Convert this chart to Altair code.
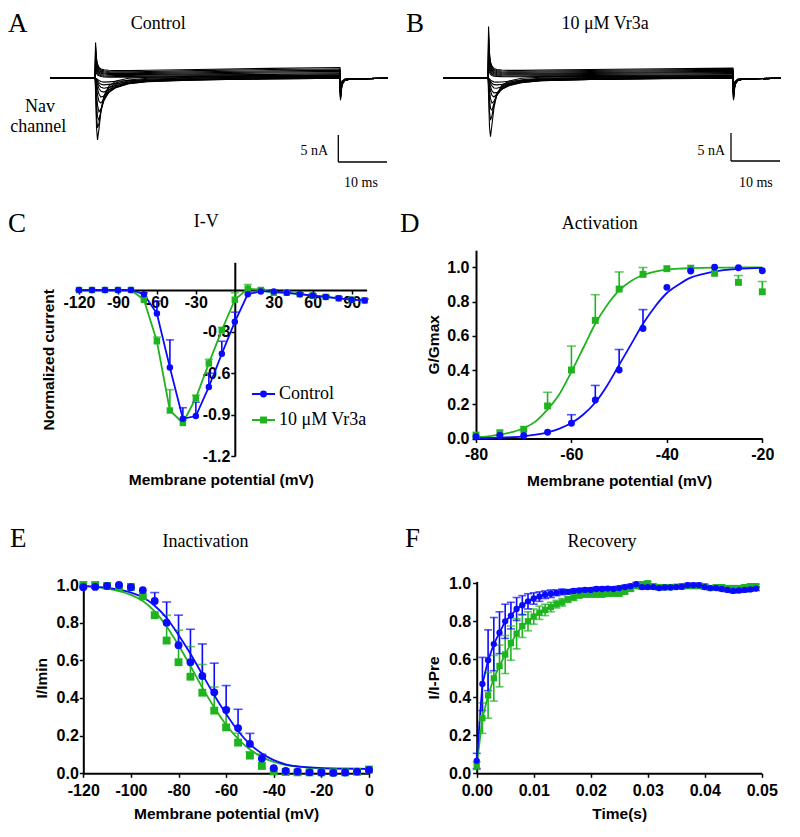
import altair as alt
import pandas as pd

SERIF = "Liberation Serif"
SANS = "Liberation Sans"
SERIES = ["Control", "10 μM Vr3a"]
COLORS = ["#0a0aff", "#1fb41f"]
SHAPES = ["circle", "square"]

# ---------------- A / B : current traces (time in ms, current in nA) ----------------
trace_t = [0, 9.2, 9.3, 9.5, 9.7, 10.0, 10.4, 11.0, 12.0, 13.5, 16.0, 20.0, 30.0, 45.0,
           59.2, 59.3, 59.6, 60.2, 61.5, 69.0]

control_traces = [
    [0, 0, 6.5, 3.6, 2.6, 2.0, 1.7, 1.55, 1.45, 1.4, 1.4, 1.45, 1.6, 1.8, 1.95, -4.0, -1.2, -0.4, -0.1, 0],
    [0, 0, 5.8, 3.2, 2.3, 1.8, 1.5, 1.35, 1.25, 1.2, 1.2, 1.25, 1.4, 1.6, 1.7, -3.8, -1.1, -0.4, -0.1, 0],
    [0, 0, 5.1, 2.9, 2.0, 1.6, 1.3, 1.15, 1.05, 1.0, 1.0, 1.05, 1.2, 1.35, 1.45, -3.6, -1.0, -0.3, -0.1, 0],
    [0, 0, 4.4, 2.5, 1.8, 1.4, 1.1, 0.95, 0.9, 0.85, 0.85, 0.9, 1.0, 1.15, 1.25, -3.4, -1.0, -0.3, -0.1, 0],
    [0, 0, 3.7, 2.1, 1.5, 1.15, 0.9, 0.8, 0.72, 0.7, 0.7, 0.72, 0.8, 0.95, 1.0, -3.2, -0.9, -0.3, -0.1, 0],
    [0, 0, 3.0, 1.7, 1.2, 0.9, 0.7, 0.6, 0.55, 0.52, 0.52, 0.55, 0.62, 0.72, 0.8, -3.0, -0.9, -0.3, -0.1, 0],
    [0, 0, 2.3, 1.3, 0.9, 0.65, 0.5, 0.42, 0.38, 0.35, 0.35, 0.38, 0.45, 0.52, 0.58, -2.8, -0.8, -0.3, -0.1, 0],
    [0, 0, 1.6, 0.9, 0.6, 0.45, 0.32, 0.26, 0.22, 0.2, 0.2, 0.22, 0.28, 0.33, 0.38, -2.6, -0.8, -0.3, -0.1, 0],
    [0, 0, -2.5, -9.0, -11.2, -9.2, -6.0, -3.2, -1.4, -0.5, 0.0, 0.2, 0.35, 0.45, 0.55, -3.5, -1.0, -0.3, -0.1, 0],
    [0, 0, -1.2, -6.8, -9.0, -8.2, -5.8, -3.5, -1.8, -0.8, -0.3, 0.0, 0.2, 0.3, 0.4, -3.3, -0.9, -0.3, -0.1, 0],
    [0, 0, -0.6, -4.5, -7.0, -7.6, -6.0, -3.9, -2.2, -1.1, -0.5, -0.15, 0.1, 0.2, 0.3, -3.1, -0.9, -0.3, -0.1, 0],
    [0, 0, -0.3, -2.7, -4.9, -6.1, -5.6, -4.1, -2.5, -1.4, -0.7, -0.3, 0.0, 0.12, 0.2, -2.9, -0.8, -0.3, -0.1, 0],
    [0, 0, -0.15, -1.5, -3.0, -4.2, -4.5, -3.8, -2.6, -1.6, -0.9, -0.45, -0.15, 0.05, 0.12, -2.7, -0.8, -0.3, -0.1, 0],
    [0, 0, -0.1, -0.8, -1.9, -2.9, -3.4, -3.2, -2.5, -1.7, -1.0, -0.55, -0.25, 0.0, 0.08, -2.5, -0.7, -0.2, -0.1, 0],
    [0, 0, 0, -0.45, -1.1, -1.9, -2.35, -2.5, -2.1, -1.6, -1.0, -0.6, -0.3, -0.05, 0.04, -2.3, -0.7, -0.2, -0.1, 0],
    [0, 0, 0, -0.3, -0.7, -1.25, -1.65, -1.8, -1.65, -1.3, -0.9, -0.55, -0.3, -0.1, 0.0, -2.1, -0.6, -0.2, -0.1, 0],
    [0, 0, 0, -0.2, -0.4, -0.8, -1.1, -1.2, -1.1, -0.95, -0.7, -0.45, -0.25, -0.1, 0.0, -1.9, -0.6, -0.2, -0.1, 0],
    [0, 0, 0, -0.1, -0.2, -0.4, -0.6, -0.7, -0.65, -0.55, -0.4, -0.3, -0.15, -0.05, 0.0, -1.7, -0.5, -0.2, -0.1, 0],
]

vr3a_traces = [
    [0, 0, 9.4, 4.5, 3.0, 2.2, 1.8, 1.6, 1.5, 1.45, 1.45, 1.5, 1.6, 1.75, 1.85, -4.0, -1.2, -0.4, -0.1, 0],
    [0, 0, 8.3, 4.0, 2.7, 2.0, 1.6, 1.42, 1.33, 1.28, 1.28, 1.32, 1.42, 1.55, 1.65, -3.8, -1.1, -0.4, -0.1, 0],
    [0, 0, 7.2, 3.5, 2.4, 1.75, 1.4, 1.24, 1.15, 1.1, 1.1, 1.14, 1.24, 1.36, 1.45, -3.6, -1.0, -0.3, -0.1, 0],
    [0, 0, 6.1, 3.0, 2.1, 1.5, 1.2, 1.06, 0.98, 0.94, 0.94, 0.97, 1.06, 1.17, 1.25, -3.4, -1.0, -0.3, -0.1, 0],
    [0, 0, 5.0, 2.5, 1.75, 1.25, 1.0, 0.88, 0.8, 0.76, 0.76, 0.8, 0.88, 0.98, 1.05, -3.2, -0.9, -0.3, -0.1, 0],
    [0, 0, 3.9, 2.0, 1.4, 1.0, 0.8, 0.7, 0.63, 0.6, 0.6, 0.63, 0.7, 0.78, 0.85, -3.0, -0.9, -0.3, -0.1, 0],
    [0, 0, 2.8, 1.5, 1.05, 0.75, 0.6, 0.52, 0.46, 0.43, 0.43, 0.46, 0.52, 0.58, 0.64, -2.8, -0.8, -0.3, -0.1, 0],
    [0, 0, 1.8, 1.0, 0.7, 0.5, 0.4, 0.34, 0.3, 0.28, 0.28, 0.3, 0.35, 0.4, 0.44, -2.6, -0.8, -0.3, -0.1, 0],
    [0, 0, -3.0, -9.0, -10.6, -8.4, -5.4, -2.9, -1.3, -0.5, 0.0, 0.2, 0.3, 0.4, 0.5, -3.5, -1.0, -0.3, -0.1, 0],
    [0, 0, -1.4, -6.2, -7.6, -6.8, -4.8, -2.9, -1.5, -0.7, -0.25, 0.0, 0.15, 0.25, 0.35, -3.3, -0.9, -0.3, -0.1, 0],
    [0, 0, -0.6, -3.8, -5.5, -5.8, -4.6, -3.0, -1.7, -0.9, -0.4, -0.1, 0.05, 0.15, 0.25, -3.1, -0.9, -0.3, -0.1, 0],
    [0, 0, -0.3, -2.2, -3.7, -4.5, -4.2, -3.1, -1.9, -1.05, -0.5, -0.2, 0.0, 0.1, 0.18, -2.9, -0.8, -0.3, -0.1, 0],
    [0, 0, -0.15, -1.2, -2.3, -3.1, -3.4, -2.9, -2.0, -1.2, -0.65, -0.3, -0.1, 0.05, 0.12, -2.7, -0.8, -0.3, -0.1, 0],
    [0, 0, -0.1, -0.7, -1.5, -2.3, -2.65, -2.6, -2.0, -1.35, -0.8, -0.45, -0.2, 0.0, 0.08, -2.5, -0.7, -0.2, -0.1, 0],
    [0, 0, 0, -0.4, -0.9, -1.4, -1.75, -1.8, -1.55, -1.15, -0.75, -0.45, -0.22, -0.05, 0.04, -2.3, -0.7, -0.2, -0.1, 0],
    [0, 0, 0, -0.25, -0.55, -0.9, -1.15, -1.2, -1.1, -0.9, -0.62, -0.4, -0.2, -0.08, 0.0, -2.1, -0.6, -0.2, -0.1, 0],
    [0, 0, 0, -0.12, -0.28, -0.5, -0.65, -0.7, -0.66, -0.55, -0.4, -0.28, -0.15, -0.05, 0.0, -1.9, -0.6, -0.2, -0.1, 0],
]

# ---------------- C : I-V ----------------
iv_v = [-120, -110, -100, -90, -80, -70, -60, -50, -40, -30, -20, -10, 0, 10, 20, 30, 40, 50, 60, 70, 80, 90, 100]
iv_control = [0, 0, 0, 0, 0, -0.03, -0.17, -0.56, -0.93, -0.91, -0.70, -0.46, -0.23, -0.03, -0.01, -0.01,
              -0.02, -0.03, -0.04, -0.05, -0.06, -0.07, -0.075]
iv_control_err = [0, 0, 0, 0, 0, 0.01, 0.09, 0.20, 0.08, 0.10, 0.10, 0.09, 0.07, 0.02, 0.01, 0.01,
                  0.01, 0.01, 0.01, 0.01, 0.01, 0.01, 0.01]
iv_vr3a = [0, 0, 0, 0, 0, -0.07, -0.37, -0.87, -0.96, -0.78, -0.53, -0.29, -0.07, 0.01, 0.0, -0.02,
           -0.02, -0.03, -0.04, -0.05, -0.06, -0.07, -0.075]
iv_vr3a_err = [0, 0, 0, 0, 0, 0.02, 0.03, 0.15, 0.02, 0.02, 0.03, 0.02, 0.05, 0.03, 0.01, 0.01,
               0.01, 0.01, 0.01, 0.01, 0.01, 0.01, 0.01]

# ---------------- D : Activation ----------------
act_v = [-80, -75, -70, -65, -60, -55, -50, -45, -40, -35, -30, -25, -20]
act_control = [0.01, 0.017, 0.017, 0.036, 0.089, 0.225, 0.40, 0.643, 0.883, 0.978, 1.0, 0.998, 0.98]
act_control_err = [0, 0, 0, 0, 0.05, 0.085, 0.12, 0.11, 0, 0, 0, 0, 0]
act_vr3a = [0.02, 0.034, 0.054, 0.19, 0.40, 0.69, 0.873, 0.959, 0.992, 0.995, 0.965, 0.912, 0.857]
act_vr3a_err = [0, 0, 0, 0.08, 0.14, 0.15, 0.10, 0.04, 0, 0, 0, 0.04, 0.06]
act_fit_v = [-80, -77.5, -75, -72.5, -70, -67.5, -65, -62.5, -60, -57.5, -55, -52.5, -50, -47.5, -45,
             -42.5, -40, -37.5, -35, -32.5, -30, -25, -20]
act_fit_control = [0.002, 0.003, 0.005, 0.008, 0.013, 0.022, 0.036, 0.058, 0.09, 0.14, 0.21, 0.31, 0.43,
                   0.55, 0.67, 0.77, 0.85, 0.90, 0.94, 0.96, 0.976, 0.991, 0.997]
act_fit_vr3a = [0.008, 0.013, 0.022, 0.037, 0.06, 0.10, 0.17, 0.26, 0.39, 0.53, 0.67, 0.78, 0.865,
                0.92, 0.955, 0.975, 0.986, 0.992, 0.995, 0.997, 0.998, 0.999, 1.0]

# ---------------- E : Inactivation ----------------
inact_v = [-120, -115, -110, -105, -100, -95, -90, -85, -80, -75, -70, -65, -60, -55, -50, -45, -40,
           -35, -30, -25, -20, -15, -10, -5, 0]
inact_control = [0.988, 0.99, 0.995, 1.0, 0.988, 0.973, 0.915, 0.80, 0.68, 0.59, 0.517, 0.43, 0.336,
                 0.24, 0.156, 0.078, 0.027, 0.012, 0.009, 0.005, 0.004, 0.002, 0.004, 0.009, 0.018]
inact_control_err = [0, 0, 0, 0, 0, 0, 0.045, 0.11, 0.16, 0.175, 0.17, 0.155, 0.13, 0.10, 0.056, 0.023,
                     0, 0, 0, 0, 0, 0, 0, 0, 0]
inact_vr3a = [1.0, 1.0, 0.995, 0.988, 0.99, 0.94, 0.84, 0.705, 0.59, 0.513, 0.428, 0.333, 0.244, 0.163,
              0.094, 0.039, 0.01, 0.007, 0.005, 0.005, 0.005, 0.005, 0.005, 0.008, 0.02]
inact_vr3a_err = [0, 0, 0, 0, 0, 0, 0, 0.135, 0.17, 0.16, 0.15, 0.125, 0.10, 0.05, 0.02, 0, 0, 0, 0,
                  0, 0, 0, 0, 0, 0]
inact_fit_v = [-120, -115, -110, -105, -100, -95, -90, -85, -80, -75, -70, -65, -60, -55, -50, -45,
               -40, -35, -30, -25, -20, -10, 0]
inact_fit_control = [0.995, 0.99, 0.985, 0.975, 0.96, 0.935, 0.89, 0.825, 0.735, 0.635, 0.525, 0.415,
                     0.315, 0.225, 0.155, 0.105, 0.07, 0.048, 0.037, 0.031, 0.028, 0.025, 0.024]
inact_fit_vr3a = [0.995, 0.99, 0.98, 0.968, 0.948, 0.915, 0.86, 0.78, 0.68, 0.57, 0.455, 0.35, 0.258,
                  0.183, 0.126, 0.087, 0.06, 0.044, 0.035, 0.03, 0.027, 0.025, 0.024]

# ---------------- F : Recovery ----------------
rec_t = [0.000, 0.001, 0.002, 0.003, 0.004, 0.005, 0.006, 0.007, 0.008, 0.009,
         0.010, 0.011, 0.012, 0.013, 0.014, 0.015, 0.016, 0.017, 0.018, 0.019,
         0.020, 0.021, 0.022, 0.023, 0.024, 0.025, 0.026, 0.027, 0.028, 0.029,
         0.030, 0.031, 0.032, 0.033, 0.034, 0.035, 0.036, 0.037, 0.038, 0.039,
         0.040, 0.041, 0.042, 0.043, 0.044, 0.045, 0.046, 0.047, 0.048, 0.049]
rec_control = [0.065, 0.47, 0.595, 0.68, 0.74, 0.80, 0.83, 0.865, 0.885, 0.905,
               0.92, 0.93, 0.94, 0.945, 0.95, 0.955, 0.955, 0.96, 0.962, 0.965,
               0.965, 0.97, 0.97, 0.972, 0.97, 0.975, 0.98, 0.985, 0.995, 0.98,
               0.98, 0.98, 0.975, 0.978, 0.978, 0.98, 0.982, 0.99, 0.99, 0.99,
               0.98, 0.975, 0.975, 0.97, 0.965, 0.96, 0.962, 0.965, 0.968, 0.972]
rec_control_err = [0.04, 0.14, 0.16, 0.14, 0.11, 0.09, 0.07, 0.06, 0.05, 0.04,
                   0.03, 0.025, 0.02, 0.02, 0.015, 0.015, 0.01, 0.01, 0.01, 0.01,
                   0.01, 0.01, 0.01, 0.01, 0.01, 0.01, 0.01, 0.01, 0.01, 0.01,
                   0.01, 0.01, 0.01, 0.01, 0.01, 0.01, 0.01, 0.01, 0.01, 0.01,
                   0.01, 0.01, 0.01, 0.01, 0.01, 0.01, 0.01, 0.01, 0.01, 0.01]
rec_vr3a = [0.04, 0.29, 0.41, 0.50, 0.565, 0.625, 0.685, 0.735, 0.775, 0.80,
            0.825, 0.845, 0.86, 0.875, 0.89, 0.90, 0.915, 0.925, 0.935, 0.94,
            0.94, 0.94, 0.94, 0.945, 0.945, 0.945, 0.955, 0.97, 0.985, 0.995,
            1.0, 0.985, 0.98, 0.98, 0.98, 0.982, 0.985, 0.985, 0.985, 0.985,
            0.985, 0.975, 0.98, 0.98, 0.975, 0.975, 0.975, 0.98, 0.985, 0.985]
rec_vr3a_err = [0.02, 0.08, 0.12, 0.12, 0.11, 0.10, 0.09, 0.08, 0.06, 0.05,
                0.04, 0.035, 0.03, 0.025, 0.02, 0.02, 0.015, 0.015, 0.01, 0.01,
                0.01, 0.01, 0.01, 0.01, 0.01, 0.01, 0.01, 0.01, 0.01, 0.01,
                0.01, 0.01, 0.01, 0.01, 0.01, 0.01, 0.01, 0.01, 0.01, 0.01,
                0.01, 0.01, 0.01, 0.01, 0.01, 0.01, 0.01, 0.01, 0.01, 0.01]

# ---------------- helpers ----------------
W, H = 784, 821


def px(v):
    return v - 8


color_enc = alt.Color("series:N", scale=alt.Scale(domain=SERIES, range=COLORS), legend=None)
shape_enc = alt.Shape("series:N", scale=alt.Scale(domain=SERIES, range=SHAPES), legend=None)
MINUS_FIX = "replace(datum.label, '\u2212', '-')"


def lin(domain, rng):
    return alt.Scale(domain=domain, range=rng, nice=False, zero=False)


def long_df(xs, ctrl, ctrl_err, vr, vr_err):
    rows = []
    for s, vals, errs in ((SERIES[1], vr, vr_err), (SERIES[0], ctrl, ctrl_err)):
        for x, v, e in zip(xs, vals, errs):
            rows.append({"x": x, "y": v, "hi": v + e, "lo": v - e, "err": e, "series": s})
    return pd.DataFrame(rows)


def fit_df(xs, ctrl, vr):
    rows = []
    for s, vals in ((SERIES[1], vr), (SERIES[0], ctrl)):
        for x, v in zip(xs, vals):
            rows.append({"x": x, "y": v, "series": s})
    return pd.DataFrame(rows)


def data_panel(df, xs, ys, xaxis, yaxis, size, cap, connect=False, fits=None, sym=False):
    # every sub-layer carries the identical axis spec so the shared axis survives merging
    X = lambda f: alt.X(f, scale=xs, axis=xaxis)
    Y = lambda f: alt.Y(f, scale=ys, axis=yaxis)
    base = alt.Chart(df)
    err = base.transform_filter("datum.err > 0")
    layers = [
        err.mark_rule(strokeWidth=1.6).encode(
            x=X("x:Q"), y=Y("lo:Q" if sym else "y:Q"), y2="hi:Q", color=color_enc),
        err.mark_tick(orient="horizontal", size=cap, thickness=1.6).encode(
            x=X("x:Q"), y=Y("hi:Q"), color=color_enc),
    ]
    if sym:
        layers.append(err.mark_tick(orient="horizontal", size=cap, thickness=1.6).encode(
            x=X("x:Q"), y=Y("lo:Q"), color=color_enc))
    if fits is not None:
        layers.append(alt.Chart(fits).mark_line(strokeWidth=1.8, interpolate="monotone").encode(
            x=X("x:Q"), y=Y("y:Q"), color=color_enc, detail="series:N"))
    if connect:
        layers.append(base.mark_line(strokeWidth=1.8).encode(
            x=X("x:Q"), y=Y("y:Q"), color=color_enc, detail="series:N"))
    layers.append(base.mark_point(filled=True, opacity=1, size=size).encode(
        x=X("x:Q"), y=Y("y:Q"), color=color_enc, shape=shape_enc))
    return alt.layer(*layers)


def trace_panel(traces, x0, x1):
    rows = []
    for k, tr in enumerate(traces):
        for t, v in zip(trace_t, tr):
            rows.append({"trace": k, "t": t, "i": v})
    return alt.Chart(pd.DataFrame(rows)).mark_line(color="black", strokeWidth=1.1).encode(
        x=alt.X("t:Q", scale=lin([0, 69], [px(x0), px(x1)]), axis=None),
        y=alt.Y("i:Q", scale=lin([-12, 10], [px(144.3), px(23.3)]), axis=None),
        detail="trace:N")


def text_layer(s, x, y, size, align="center", font=SERIF, weight="normal"):
    return alt.Chart(pd.DataFrame({"t": [s]})).mark_text(
        font=font, fontSize=size, fontWeight=weight, align=align, baseline="alphabetic", color="black"
    ).encode(text="t:N", x=alt.value(px(x)), y=alt.value(px(y)))


def rule_layer(x1, y1, x2, y2):
    return alt.Chart(pd.DataFrame({"a": [0]})).mark_rule(color="black", strokeWidth=1.3).encode(
        x=alt.value(px(x1)), y=alt.value(px(y1)), x2=alt.value(px(x2)), y2=alt.value(px(y2)))


# ---------------- panels ----------------
panel_a = trace_panel(control_traces, 50, 388)
panel_b = trace_panel(vr3a_traces, 443, 781)

# C
xs_c = lin([-123, 101.5], [px(75.1), px(366.6)])
ys_c = lin([-1.2, 0.2], [px(456.2), px(262.3)])
xa_c = alt.Axis(orient="bottom", offset=px(290) - H, values=[-120, -90, -60, -30, 30, 60, 90],
                title="Membrane potential (mV)", titleY=479 - 290, titleBaseline="middle",
                labelExpr=MINUS_FIX, labelPadding=0)
ya_c = alt.Axis(orient="left", offset=-px(234.8), values=[-1.2, -0.9, -0.6, -0.3], format=".1f",
                title="Normalized current", titleX=48.3 - 234.8, titleBaseline="middle",
                labelExpr=MINUS_FIX, labelPadding=1)
panel_c = data_panel(long_df(iv_v, iv_control, iv_control_err, iv_vr3a, iv_vr3a_err),
                     xs_c, ys_c, xa_c, ya_c, size=42, cap=8, connect=True)

leg_df = pd.DataFrame({"series": SERIES})
leg_y = alt.Y("series:N", scale=alt.Scale(type="point", domain=SERIES, range=[px(394), px(420)], padding=0),
              axis=None)
legend_c = alt.layer(
    alt.Chart(leg_df).mark_rule(strokeWidth=2).encode(
        x=alt.value(px(252)), x2=alt.value(px(275)), y=leg_y, color=color_enc),
    alt.Chart(leg_df).mark_point(filled=True, opacity=1, size=48).encode(
        x=alt.value(px(263.5)), y=leg_y, color=color_enc, shape=shape_enc),
    alt.Chart(leg_df).mark_text(align="left", baseline="middle", font=SERIF, fontSize=18, color="black").encode(
        x=alt.value(px(279)), y=leg_y, text="series:N"),
)

# D
xs_d = lin([-80, -20], [px(476), px(762.3)])
ys_d = lin([0, 1.1], [px(438.5), px(250.2)])
xa_d = alt.Axis(orient="bottom", offset=px(438.5) - H, values=[-80, -60, -40, -20],
                title="Membrane potential (mV)", titleY=480 - 438.5, titleBaseline="middle",
                labelExpr=MINUS_FIX, labelPadding=4)
ya_d = alt.Axis(orient="left", offset=-px(476), values=[0, 0.2, 0.4, 0.6, 0.8, 1.0], format=".1f",
                title="G/Gmax", titleX=433.3 - 476, titleBaseline="middle", labelPadding=3)
panel_d = data_panel(long_df(act_v, act_control, act_control_err, act_vr3a, act_vr3a_err),
                     xs_d, ys_d, xa_d, ya_d, size=48, cap=9,
                     fits=fit_df(act_fit_v, act_fit_control, act_fit_vr3a))

# E
xs_e = lin([-120, 0], [px(83.3), px(369)])
ys_e = lin([0, 1.015], [px(773.3), px(582.2)])
xa_e = alt.Axis(orient="bottom", offset=px(773.3) - H, values=[-120, -100, -80, -60, -40, -20, 0],
                title="Membrane potential (mV)", titleY=813.3 - 773.3, titleBaseline="middle",
                labelExpr=MINUS_FIX, labelPadding=5)
ya_e = alt.Axis(orient="left", offset=-px(83.3), values=[0, 0.2, 0.4, 0.6, 0.8, 1.0], format=".1f",
                title="I/Imin", titleX=41.7 - 83.3, titleBaseline="middle", labelPadding=1)
panel_e = data_panel(long_df(inact_v, inact_control, inact_control_err, inact_vr3a, inact_vr3a_err),
                     xs_e, ys_e, xa_e, ya_e, size=62, cap=9,
                     fits=fit_df(inact_fit_v, inact_fit_control, inact_fit_vr3a))

# F
xs_f = lin([0, 0.05], [px(476.7), px(761.7)])
ys_f = lin([0, 1.01], [px(773.3), px(581.4)])
xa_f = alt.Axis(orient="bottom", offset=px(773.3) - H, values=[0, 0.01, 0.02, 0.03, 0.04, 0.05],
                format=".2f", title="Time(s)", titleY=813 - 773.3, titleBaseline="middle",
                labelPadding=5)
ya_f = alt.Axis(orient="left", offset=-px(476.7), values=[0, 0.2, 0.4, 0.6, 0.8, 1.0], format=".1f",
                title="I/I-Pre", titleX=433.3 - 476.7, titleBaseline="middle", labelPadding=2)
panel_f = data_panel(long_df(rec_t, rec_control, rec_control_err, rec_vr3a, rec_vr3a_err),
                     xs_f, ys_f, xa_f, ya_f, size=40, cap=8, connect=True, sym=True)

# ---------------- annotations ----------------
texts = [
    text_layer("A", 8, 32, 27, align="left"),
    text_layer("B", 406, 32, 27, align="left"),
    text_layer("C", 8, 231.7, 27, align="left"),
    text_layer("D", 400, 231.7, 27, align="left"),
    text_layer("E", 10, 546.7, 27, align="left"),
    text_layer("F", 405, 546.7, 27, align="left"),
    text_layer("Control", 158.3, 29.3, 18),
    text_layer("10 μM Vr3a", 605, 29.3, 18),
    text_layer("Nav", 40, 111.7, 18),
    text_layer("channel", 38.3, 131.7, 18),
    text_layer("5 nA", 328, 155, 14, align="right"),
    text_layer("10 ms", 361, 186.7, 14),
    text_layer("5 nA", 725, 155, 14, align="right"),
    text_layer("10 ms", 755.8, 186.7, 14),
    text_layer("I-V", 206.3, 226.7, 18),
    text_layer("Activation", 599.7, 229, 18),
    text_layer("Inactivation", 205.5, 546.7, 18),
    text_layer("Recovery", 602, 547, 18),
]
bars = [
    rule_layer(338.3, 135, 338.3, 162),
    rule_layer(338.3, 162, 387, 162),
    rule_layer(731, 133, 731, 161),
    rule_layer(731, 161, 780, 161),
]

chart = alt.layer(
    panel_a, panel_b, panel_c, legend_c, panel_d, panel_e, panel_f, *texts, *bars
).resolve_scale(
    x="independent", y="independent"
).resolve_axis(
    x="independent", y="independent"
).properties(
    width=W, height=H, padding=0, background="white",
    autosize=alt.AutoSizeParams(type="none"),
).configure_view(
    stroke=None
).configure_axis(
    grid=False, domainColor="black", domainWidth=2, tickColor="black", tickWidth=1.5, tickSize=4,
    labelFont=SANS, labelFontSize=16, labelFontWeight="bold", labelColor="black",
    labelFlush=False, labelOverlap=False,
    titleFont=SANS, titleFontSize=15.5, titleFontWeight="bold", titleColor="black",
)

chart.save("out.html", embed_options={"renderer": "svg", "actions": False})
